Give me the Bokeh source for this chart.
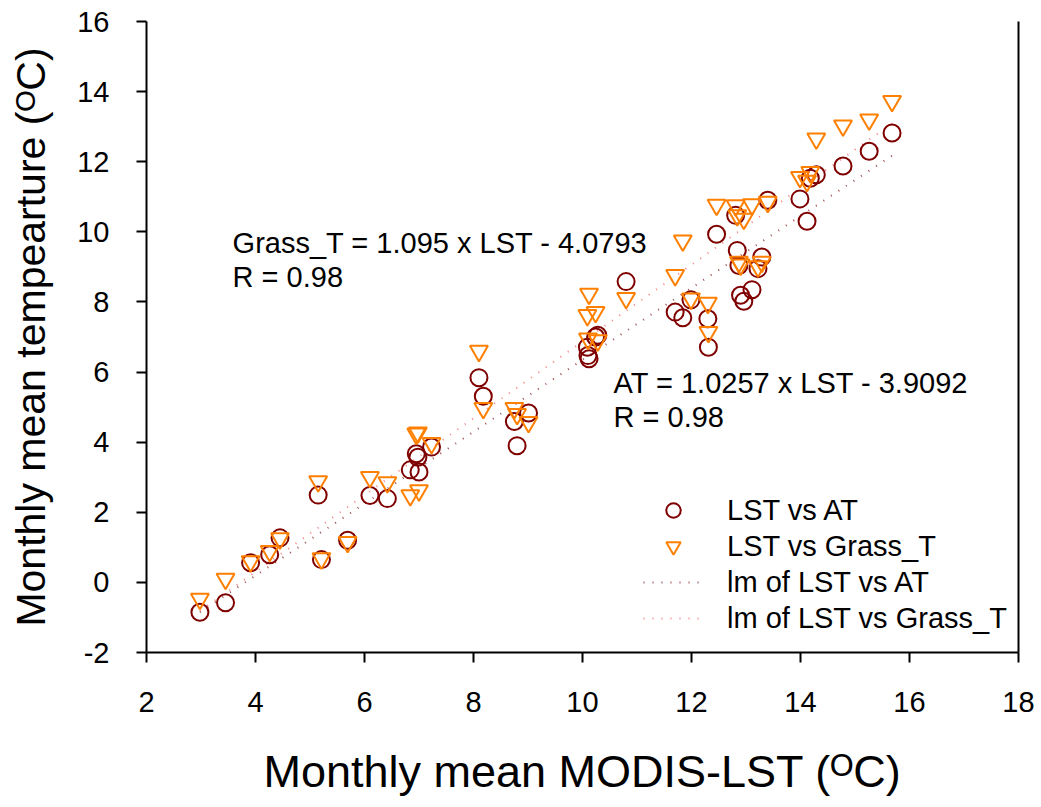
from bokeh.plotting import figure
from bokeh.models import Range1d, LinearAxis, Label, Legend, LegendItem, FixedTicker
from bokeh.embed import file_html
from bokeh.resources import INLINE

# ---- data ----
lst = [2.98, 3.45, 3.91, 4.26, 4.45, 5.15, 5.21, 5.69, 6.10, 6.42,
       6.84, 6.95, 6.98, 7.00, 7.23, 8.10, 8.18, 8.75, 8.80, 9.01,
       10.09, 10.10, 10.12, 10.24, 10.28, 10.80, 11.70, 11.84, 11.99, 12.30,
       12.31, 12.46, 12.81, 12.84, 12.87, 12.90, 12.96, 13.11, 13.22, 13.29,
       13.40, 13.99, 14.12, 14.18, 14.29, 14.78, 15.26, 15.68]
at = [-0.85, -0.58, 0.56, 0.79, 1.27, 2.49, 0.65, 1.20, 2.48, 2.39,
      3.21, 3.67, 3.57, 3.15, 3.86, 5.84, 5.31, 4.59, 3.90, 4.83,
      6.71, 6.47, 6.38, 7.00, 7.05, 8.58, 7.71, 7.55, 8.06, 7.52,
      6.71, 9.93, 10.47, 9.47, 9.04, 8.19, 8.02, 8.35, 8.95, 9.28,
      10.90, 10.94, 10.30, 11.53, 11.63, 11.88, 12.30, 12.82]
grass = [-0.47, 0.10, 0.60, 0.89, 1.25, 2.88, 0.68, 1.15, 3.00, 2.85,
         2.48, 4.24, 4.27, 2.62, 3.97, 6.60, 4.97, 4.97, 4.80, 4.57,
         7.62, 6.95, 8.23, 7.71, 6.90, 8.11, 8.76, 9.75, 8.09, 7.97,
         7.14, 10.77, 10.75, 10.47, 9.14, 9.06, 10.37, 10.78, 9.01, 9.14,
         10.85, 11.56, 11.45, 11.70, 12.66, 13.03, 13.20, 13.73]
x_ticks = [2, 4, 6, 8, 10, 12, 14, 16, 18]
y_ticks = [-2, 0, 2, 4, 6, 8, 10, 12, 14, 16]
at_fit = [1.0257, -3.9092]
grass_fit = [1.095, -4.0793]
r_at = 0.98
r_grass = 0.98

FONT = "Liberation Sans"
AT_COLOR = "#7F0000"
GRASS_COLOR = "#FF8000"

p = figure(width=1041, height=807, output_backend="svg", toolbar_location=None,
           x_range=Range1d(x_ticks[0], x_ticks[-1]), y_range=Range1d(y_ticks[0], y_ticks[-1]),
           min_border_left=146, min_border_right=23, min_border_top=21, min_border_bottom=155)
p.grid.visible = False
p.outline_line_color = None
p.background_fill_color = "white"
p.border_fill_color = "white"

for ax, ticks in ((p.xaxis[0], x_ticks), (p.yaxis[0], y_ticks)):
    ax.ticker = FixedTicker(ticks=ticks)
    ax.major_label_overrides = {t: str(t) for t in ticks}
    ax.axis_line_width = 2
    ax.axis_line_color = "black"
    ax.major_tick_line_width = 2
    ax.major_tick_line_color = "black"
    ax.major_tick_out = 10
    ax.major_tick_in = 0
    ax.minor_tick_line_color = None
    ax.major_label_text_font = FONT
    ax.major_label_text_font_size = "29px"
    ax.major_label_text_color = "black"
    ax.axis_label_text_font = FONT
    ax.axis_label_text_font_style = "normal"
    ax.axis_label_text_color = "black"

p.xaxis[0].major_label_standoff = 29
p.yaxis[0].major_label_standoff = 27
p.xaxis[0].axis_label = "Monthly mean MODIS-LST (\u1D3CC)"
p.xaxis[0].axis_label_text_font_size = "45px"
p.xaxis[0].axis_label_standoff = 31
p.yaxis[0].axis_label = "Monthly mean tempearture (\u1D3CC)"
p.yaxis[0].axis_label_text_font_size = "41px"
p.yaxis[0].axis_label_standoff = 20

right = LinearAxis(ticker=FixedTicker(ticks=[]), major_tick_line_color=None,
                   minor_tick_line_color=None, major_tick_out=0, major_tick_in=0,
                   major_label_standoff=0, axis_line_width=2, axis_line_color="black")
p.add_layout(right, "right")

# regression lines
x_fit = [min(lst), max(lst)]
y_at_fit = [at_fit[0] * x + at_fit[1] for x in x_fit]
y_grass_fit = [grass_fit[0] * x + grass_fit[1] for x in x_fit]
l1 = p.line(x_fit, y_at_fit, line_color="#7A1010", line_alpha=0.75, line_width=2, line_dash="1 8")
l2 = p.line(x_fit, y_grass_fit, line_color="#EE5A5A", line_alpha=0.75, line_width=2, line_dash="1 8")

c = p.scatter(lst, at, marker="circle", size=17, fill_color=None, line_color=AT_COLOR, line_width=2)
t = p.scatter(lst, grass, marker="inverted_triangle", size=18, fill_color=None,
              line_color=GRASS_COLOR, line_width=2)

legend = Legend(items=[
    LegendItem(label="LST vs AT", renderers=[c]),
    LegendItem(label="LST vs Grass_T", renderers=[t]),
    LegendItem(label="lm of LST vs AT", renderers=[l1]),
    LegendItem(label="lm of LST vs Grass_T", renderers=[l2]),
], location=(497, 16))
legend.glyph_width = 60
legend.glyph_height = 36
legend.label_height = 36
legend.spacing = 0
legend.padding = 0
legend.margin = 0
legend.label_standoff = 24
legend.border_line_color = None
legend.background_fill_alpha = 0
legend.label_text_font = FONT
legend.label_text_font_size = "29px"
legend.label_text_color = "black"
p.add_layout(legend)

def eq(name, fit):
    sign = "-" if fit[1] < 0 else "+"
    return f"{name} = {fit[0]:g} x LST {sign} {abs(fit[1]):g}"

ann = [
    (3.58, 9.67, eq("Grass_T", grass_fit)),
    (3.58, 8.70, f"R = {r_grass:g}"),
    (10.57, 5.68, eq("AT", at_fit)),
    (10.57, 4.71, f"R = {r_at:g}"),
]
for ax_, ay_, txt in ann:
    p.add_layout(Label(x=ax_, y=ay_, text=txt, text_font=FONT, text_font_size="29px",
                       text_baseline="middle", text_align="left", text_color="black"))

open("out.html", "w").write(file_html(p, INLINE))
